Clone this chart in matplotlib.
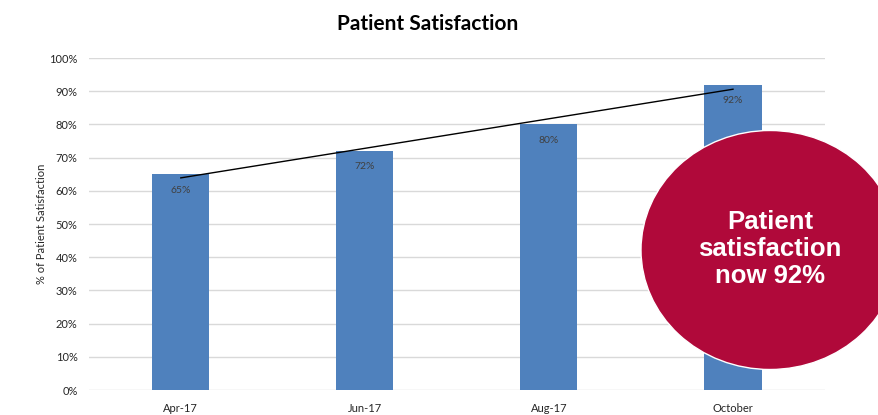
import numpy as np
import matplotlib.pyplot as plt
from matplotlib.patches import Ellipse

months = ['Apr-17', 'Jun-17', 'Aug-17', 'October']
satisfaction = [0.65, 0.72, 0.80, 0.92]
yticks = [0, 0.1, 0.2, 0.3, 0.4, 0.5, 0.6, 0.7, 0.8, 0.9, 1.0]

plt.rcParams['font.family'] = ['Lato', 'DejaVu Sans']

fig = plt.figure(figsize=(8.79, 4.15), dpi=100)
ax = fig.add_axes([0.101, 0.0602, 0.8376, 0.80])

x = np.arange(len(months))
ax.bar(x, satisfaction, width=0.31, color='#4f81bd', zorder=2)

# linear trend line
k, b = np.polyfit(x, satisfaction, 1)
ax.plot(x, k * x + b, color='black', linewidth=1, zorder=3)

for xi, v in zip(x, satisfaction):
    ax.text(xi, v - 0.048, '%d%%' % round(v * 100), ha='center', va='center',
            fontsize=7.5, color='#404040', zorder=4)

ax.set_xlim(-0.5, len(months) - 0.5)
ax.set_ylim(0, 1.0)
ax.set_yticks(yticks)
ax.set_yticklabels(['%d%%' % round(t * 100) for t in yticks])
ax.set_xticks(x)
ax.set_xticklabels(months)
ax.tick_params(axis='both', length=0, labelsize=8, colors='#262626')
ax.tick_params(axis='y', pad=8)
ax.tick_params(axis='x', pad=9)
ax.grid(axis='y', color='#d9d9d9', linewidth=1, zorder=0)
for s in ax.spines.values():
    s.set_visible(False)
ax.set_ylabel('% of Patient Satisfaction', fontsize=8, color='#262626', labelpad=2)

fig.text(0.486, 1 - 24 / 415, 'Patient Satisfaction', ha='center', va='center',
         fontsize=15, fontweight='bold', color='black')

# red callout bubble
bubble = Ellipse((770 / 879, 1 - 250 / 415), 258 / 879, 239 / 415,
                 transform=fig.transFigure, facecolor='#b0093a',
                 edgecolor='white', linewidth=1, zorder=10)
fig.add_artist(bubble)
fig.text(770 / 879, 1 - 249 / 415, 'Patient\nsatisfaction\nnow 92%',
         ha='center', va='center', fontsize=18.5, fontweight='bold',
         color='white', family='Liberation Sans', linespacing=1.15, zorder=11)

fig.savefig('out.png', dpi=100)
